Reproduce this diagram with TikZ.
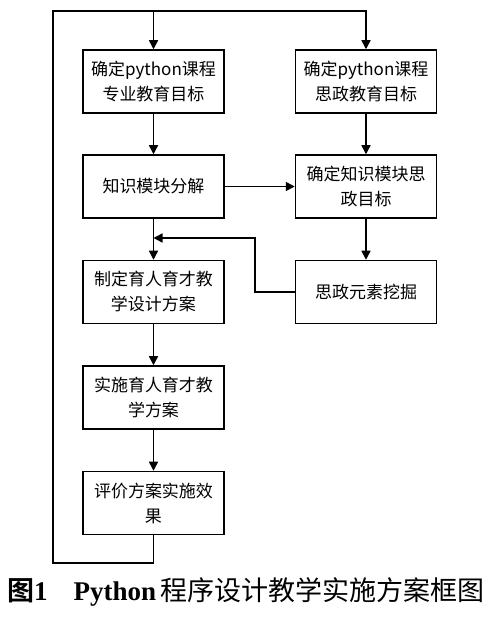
\documentclass[tikz,border=0pt]{standalone}
\usepackage{fontspec}
\setmainfont{Liberation Serif}
\newfontfamily\cjk[BoldFont={Noto Sans CJK SC Bold}]{Noto Sans CJK SC}
\usetikzlibrary{arrows.meta,positioning}

\tikzset{
    stage/.style={draw, line width=1.5pt, minimum width=141pt, minimum height=63pt,
        inner sep=0pt, align=center, font=\cjk\fontsize{17}{25}\selectfont},
    flow/.style={line width=1.5pt, -{Triangle[length=9pt,width=9pt]}}
}

\begin{document}
\begin{tikzpicture}[x=1pt,y=1pt]
    \useasboundingbox (0,0) rectangle (500,633);

    % Left column
    \node[stage] (goalL) at (153.5,551.5) {确定python课程\\专业教育目标};
    \node[stage] (split) at (153.5,446.5) {知识模块分解};
    \node[stage] (plan)  at (153.5,341)   {制定育人育才教\\学设计方案};
    \node[stage] (act)   at (153.5,235.5) {实施育人育才教\\学方案};
    \node[stage] (eval)  at (153.5,130)   {评价方案实施效\\果};

    % Right column
    \node[stage] (goalR) at (366,551.5) {确定python课程\\思政教育目标};
    \node[stage] (modR)  at (366,446.5) {确定知识模块思\\政目标};
    \node[stage] (mine)  at (366,341)   {思政元素挖掘};

    % Straight arrows
    \foreach \a/\b in {goalL/split, split/plan, plan/act, act/eval, goalR/modR, modR/mine, split/modR} {
        \draw[flow] (\a) -- (\b);
    }

    % Feedback loop
    \coordinate (loopB) at (53,70);
    \coordinate (loopT) at (53,622);
    \coordinate (fork) at (goalL.north |- loopT);
    \draw[flow] (eval.south) |- (loopB) -- (loopT) -| (goalR.north);
    \draw[flow] (fork) -- (goalL.north);

    % Elements back into plan
    \coordinate (join) at (153.5,395);
    \draw[flow] (mine.west) -- ++(-40,0) |- (join);

    \node[font=\fontsize{27}{30}\selectfont, inner sep=0pt] (cap) at (246,41)
        {{\cjk\bfseries 图}\textbf{1}\hspace{26pt}\textbf{Python}\,{\cjk 程序设计教学实施方案框图}};
\end{tikzpicture}
\end{document}
